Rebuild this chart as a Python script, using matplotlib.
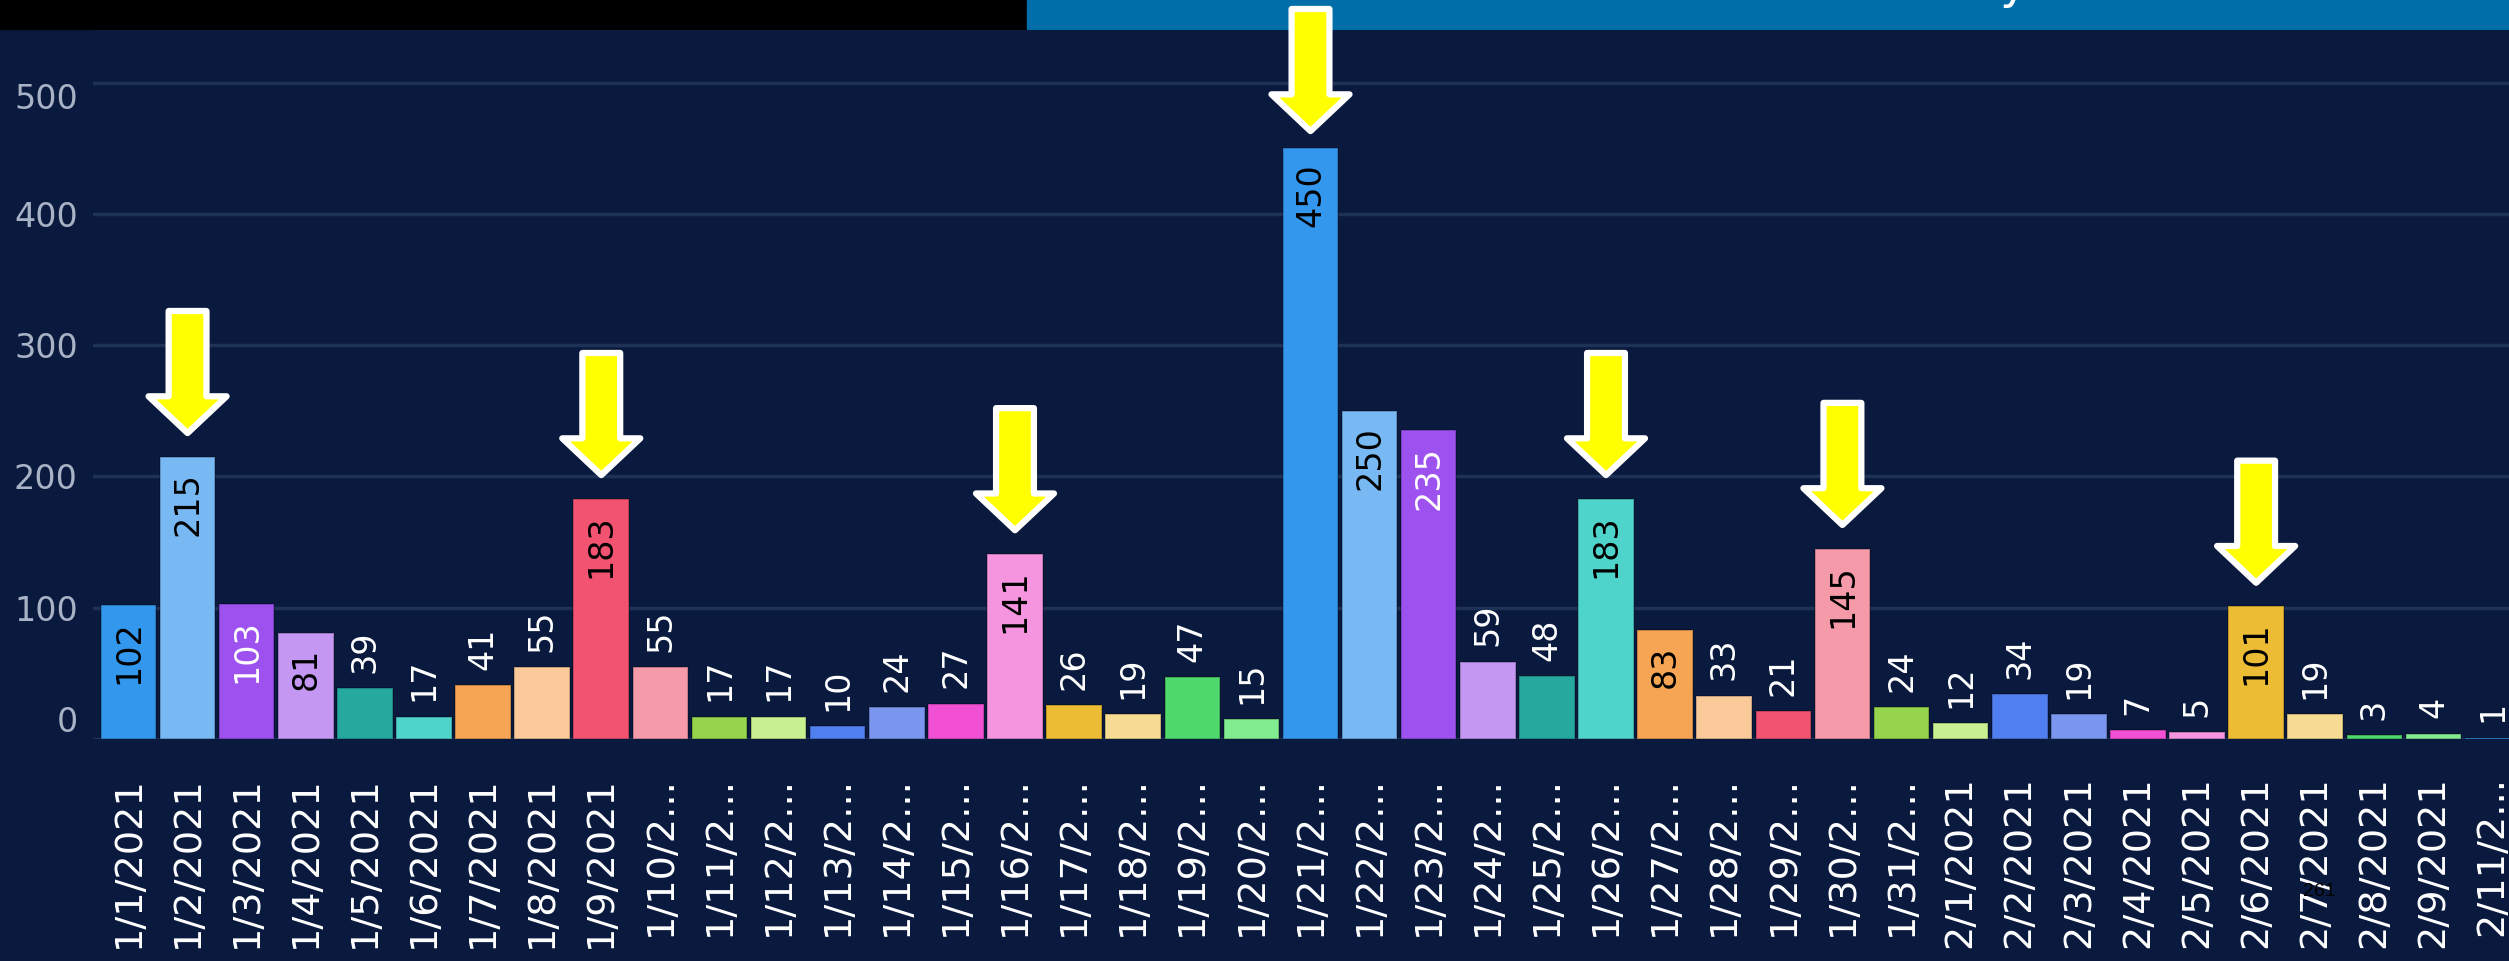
import matplotlib
matplotlib.use("Agg")
import matplotlib.pyplot as plt
from matplotlib.patches import Polygon, Rectangle
from matplotlib.colors import to_rgb

dates = ["1/1/2021", "1/2/2021", "1/3/2021", "1/4/2021", "1/5/2021", "1/6/2021",
         "1/7/2021", "1/8/2021", "1/9/2021", "1/10/2021", "1/11/2021", "1/12/2021",
         "1/13/2021", "1/14/2021", "1/15/2021", "1/16/2021", "1/17/2021", "1/18/2021",
         "1/19/2021", "1/20/2021", "1/21/2021", "1/22/2021", "1/23/2021", "1/24/2021",
         "1/25/2021", "1/26/2021", "1/27/2021", "1/28/2021", "1/29/2021", "1/30/2021",
         "1/31/2021", "2/1/2021", "2/2/2021", "2/3/2021", "2/4/2021", "2/5/2021",
         "2/6/2021", "2/7/2021", "2/8/2021", "2/9/2021", "2/11/2021"]
counts = [102, 215, 103, 81, 39, 17, 41, 55, 183, 55,
          17, 17, 10, 24, 27, 141, 26, 19, 47, 15,
          450, 250, 235, 59, 48, 183, 83, 33, 21, 145,
          24, 12, 34, 19, 7, 5, 101, 19, 3, 4, 1]
highlight = ["1/2/2021", "1/9/2021", "1/16/2021", "1/21/2021",
             "1/26/2021", "1/30/2021", "2/6/2021"]
yticks = [0, 100, 200, 300, 400, 500]

palette = ["#3497EE", "#78B8F3", "#9D52F0", "#C397F2", "#25A89E",
           "#4FD4CB", "#F5A553", "#F9C99A", "#F25370", "#F59AA8",
           "#96D44D", "#C8F090", "#5080F0", "#7A96EE", "#F250D4",
           "#F595DF", "#EDBC35", "#F5DC92", "#4FD86C", "#82EC90"]

bg = "#0A1A3F"
W, H = 2509, 961

def lum(c):
    # relative luminance, used to pick label colour inside bars
    out = []
    for v in to_rgb(c):
        out.append(v / 12.92 if v <= 0.03928 else ((v + 0.055) / 1.055) ** 2.4)
    return 0.2126 * out[0] + 0.7152 * out[1] + 0.0722 * out[2]

def short(s):
    return s if len(s) <= 8 else s[:6] + "..."

fig = plt.figure(figsize=(W / 100, H / 100), dpi=100, facecolor=bg)
fig.patches.append(Rectangle((0, 1 - 29 / H), 1027 / W, 29 / H, transform=fig.transFigure,
                             color="black", zorder=-1))
fig.patches.append(Rectangle((1027 / W, 1 - 29 / H), 1 - 1027 / W, 29 / H,
                             transform=fig.transFigure, color="#006EA8", zorder=-1))
fig.text(2000 / W, 1 + 2 / H, "y", color="white", fontsize=34, va="baseline", ha="left")

ax = fig.add_axes([93 / W, (H - 739) / H, 2435 / W, 709 / H])
ax.set_facecolor(bg)
x = list(range(len(counts)))
colors = [palette[i % len(palette)] for i in x]
ax.bar(x, counts, width=0.94, color=colors, edgecolor=(0, 0, 0, 0.25), linewidth=1.2, zorder=2)

ax.set_xlim(-0.6, len(counts) - 0.4)
ax.set_ylim(0, 540)
ax.set_axisbelow(True)
ax.yaxis.grid(True, color="#1E3157", linewidth=2.5)
for s in ax.spines.values():
    s.set_visible(False)

ax.set_yticks(yticks)
ax.set_yticklabels([str(t) for t in yticks])
ax.tick_params(axis="y", length=0, pad=11, labelsize=24, labelcolor="#A9B3C6")
ylabels = ax.get_yticklabels()
ylabels[0].set_va("bottom")
ylabels[-1].set_va("top")

ax.set_xticks(x)
ax.set_xticklabels([short(d) for d in dates], rotation=90)
ax.tick_params(axis="x", length=0, pad=27, labelsize=27.5, labelcolor="white")

for i, v in enumerate(counts):
    if v >= 70:
        tc = "white" if lum(colors[i]) < 0.22 else "black"
        ax.annotate(str(v), (i, v), xytext=(0, -11), textcoords="offset points",
                    rotation=90, ha="center", va="top", fontsize=24, color=tc, zorder=4)
    else:
        ax.annotate(str(v), (i, v), xytext=(0, 11), textcoords="offset points",
                    rotation=90, ha="center", va="bottom", fontsize=24, color="white", zorder=4)

# yellow arrows pointing at the highlighted days
sw, hw, hl, length = 0.32, 0.66, 28, 93
for d in highlight:
    i = dates.index(d)
    tip = min(counts[i] + 18, 463)
    tail = tip + length
    pts = [(i - sw, tail), (i + sw, tail), (i + sw, tip + hl), (i + hw, tip + hl),
           (i, tip), (i - hw, tip + hl), (i - sw, tip + hl)]
    ax.add_patch(Polygon(pts, closed=True, facecolor="#FFFF00", edgecolor="white",
                         linewidth=4.5, joinstyle="round", clip_on=False, zorder=6))

fig.text(2303 / W, 1 - 896 / H, "261", fontsize=14, family="Liberation Sans",
         color="black", va="baseline", ha="left", zorder=10)

fig.savefig("out.png", dpi=100, facecolor=bg)
